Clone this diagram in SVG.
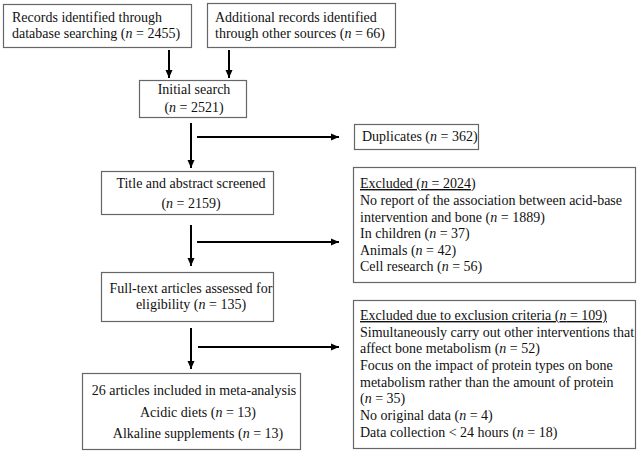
<svg xmlns="http://www.w3.org/2000/svg" width="638" height="453" viewBox="0 0 638 453">
<defs>
<marker id="ah" markerUnits="userSpaceOnUse" markerWidth="9" markerHeight="8" refX="8" refY="4" orient="auto">
<path d="M0,0.5 L8,4 L0,7.5 z" fill="#000"/>
</marker>
<style>
.box{fill:#fff;stroke:#666;stroke-width:1.2}
text{font-family:"Liberation Serif","Times New Roman",serif;font-size:14px;fill:#111}
.c{text-anchor:middle}
.u{text-decoration:underline}
.conn line{stroke:#000;stroke-width:2;marker-end:url(#ah)}
</style>
</defs>
<rect width="638" height="453" fill="#fff"/>
<g id="records-db">
<rect class="box" x="3.5" y="4.5" width="188" height="43"/>
<text x="12" y="22">Records identified through</text>
<text x="12" y="38">database searching (<tspan font-style="italic">n</tspan> = 2455)</text>
</g>
<g id="records-other">
<rect class="box" x="207.5" y="3.5" width="188" height="44"/>
<text x="215" y="22">Additional records identified</text>
<text x="215" y="38">through other sources (<tspan font-style="italic">n</tspan> = 66)</text>
</g>
<g id="initial">
<rect class="box" x="139.5" y="80.5" width="107" height="37"/>
<text class="c" x="194" y="94">Initial search</text>
<text class="c" x="194" y="112">(<tspan font-style="italic">n</tspan> = 2521)</text>
</g>
<g id="duplicates">
<rect class="box" x="354.5" y="124.5" width="124" height="25"/>
<text x="362" y="141">Duplicates (<tspan font-style="italic">n</tspan> = 362)</text>
</g>
<g id="title-abstract">
<rect class="box" x="101.5" y="171.5" width="172" height="43"/>
<text class="c" x="191" y="188">Title and abstract screened</text>
<text class="c" x="191" y="208">(<tspan font-style="italic">n</tspan> = 2159)</text>
</g>
<g id="excluded-1">
<rect class="box" x="353.5" y="167.5" width="282" height="115"/>
<text x="360" y="188"><tspan class="u">Excluded (<tspan font-style="italic">n</tspan> = 2024</tspan>)</text>
<text x="360" y="205">No report of the association between acid-base</text>
<text x="360" y="222">intervention and bone (<tspan font-style="italic">n</tspan> = 1889)</text>
<text x="360" y="238">In children (<tspan font-style="italic">n</tspan> = 37)</text>
<text x="360" y="255">Animals (<tspan font-style="italic">n</tspan> = 42)</text>
<text x="360" y="271">Cell research (<tspan font-style="italic">n</tspan> = 56)</text>
</g>
<g id="full-text">
<rect class="box" x="101.5" y="272.5" width="172" height="49"/>
<text class="c" x="191" y="293">Full-text articles assessed for</text>
<text class="c" x="191" y="309">eligibility (<tspan font-style="italic">n</tspan> = 135)</text>
</g>
<g id="excluded-2">
<rect class="box" x="353.5" y="300.5" width="282" height="148"/>
<text x="360" y="320" class="u">Excluded due to exclusion criteria (<tspan font-style="italic">n</tspan> = 109)</text>
<text x="360" y="337">Simultaneously carry out other interventions that</text>
<text x="360" y="353">affect bone metabolism (<tspan font-style="italic">n</tspan> = 52)</text>
<text x="360" y="370">Focus on the impact of protein types on bone</text>
<text x="360" y="387">metabolism rather than the amount of protein</text>
<text x="360" y="403">(<tspan font-style="italic">n</tspan> = 35)</text>
<text x="360" y="420">No original data (<tspan font-style="italic">n</tspan> = 4)</text>
<text x="360" y="437">Data collection &lt; 24 hours (<tspan font-style="italic">n</tspan> = 18)</text>
</g>
<g id="included">
<rect class="box" x="82.5" y="373.5" width="218" height="76"/>
<text class="c" x="194" y="395">26 articles included in meta-analysis</text>
<text class="c" x="198" y="417">Acidic diets (<tspan font-style="italic">n</tspan> = 13)</text>
<text class="c" x="198" y="438">Alkaline supplements (<tspan font-style="italic">n</tspan> = 13)</text>
</g>
<g id="connectors" class="conn">
<line x1="169" y1="50" x2="169" y2="78"/>
<line x1="229" y1="50" x2="229" y2="78"/>
<line x1="191" y1="123" x2="191" y2="168"/>
<line x1="197" y1="137" x2="339" y2="137"/>
<line x1="191" y1="225" x2="191" y2="266"/>
<line x1="197" y1="242" x2="339" y2="242"/>
<line x1="191" y1="328" x2="191" y2="369"/>
<line x1="198" y1="347" x2="339" y2="347"/>
</g>
</svg>
